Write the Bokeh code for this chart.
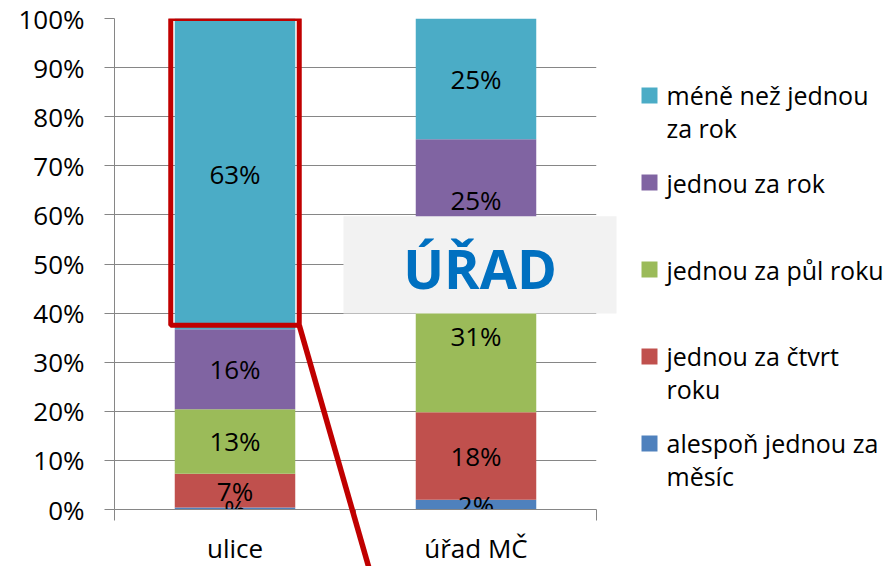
from bokeh.plotting import figure
from bokeh.models import (ColumnDataSource, Range1d, FixedTicker, NumeralTickFormatter,
                          BoxAnnotation)
from bokeh.core.properties import value
from bokeh.embed import file_html
from bokeh.resources import INLINE

# ---- data -------------------------------------------------------------
categories = ["ulice", "úřad MČ"]
series_keys = ["mesic", "ctvrt", "pul", "rok", "mene"]
series_labels = ["alespoň jednou za\nměsíc", "jednou za čtvrt\nroku", "jednou za půl roku",
                 "jednou za rok", "méně než jednou\nza rok"]
colors = ["#4F81BD", "#C0504D", "#9BBB59", "#8064A2", "#4BACC6"]

mesic = [0.004, 0.020]   # alespoň jednou za měsíc
ctvrt = [0.069, 0.178]   # jednou za čtvrt roku
pul = [0.131, 0.310]     # jednou za půl roku
rok = [0.163, 0.246]     # jednou za rok
mene = [0.633, 0.246]    # méně než jednou za rok

y_ticks = [0.0, 0.1, 0.2, 0.3, 0.4, 0.5, 0.6, 0.7, 0.8, 0.9, 1.0]

FONT = "Open Sans"
GRID = "#868686"
FRAME_W = 482  # px
FRAME_H = 491  # px
PX_X = len(categories) / FRAME_W   # data units per pixel (x)
PX_Y = 1.0 / FRAME_H               # data units per pixel (y)

# ---- derived ------------------------------------------------------------
series_values = [mesic, ctvrt, pul, rok, mene]
xpos = [i + 0.5 for i in range(len(categories))]
bar_w = 0.5

data = {"x": xpos}
for k, v in zip(series_keys, series_values):
    data[k] = v
source = ColumnDataSource(data)


def pct(v):
    n = int(round(v * 100))
    return "%" if n == 0 else f"{n}%"


lx, ly, lt = [], [], []
for ci, x in enumerate(xpos):
    base = 0.0
    for v in series_values:
        val = v[ci]
        lx.append(x)
        ly.append(base + val / 2)
        lt.append(pct(val))
        base += val
label_src = ColumnDataSource(dict(x=lx, y=ly, text=lt))

# ---- figure -------------------------------------------------------------
p = figure(width=885, height=566, x_range=Range1d(0, len(categories)), y_range=Range1d(0, 1),
           output_backend="svg", toolbar_location=None,
           min_border_left=114, min_border_right=289, min_border_top=18, min_border_bottom=57)
p.outline_line_color = None
p.background_fill_color = "white"
p.border_fill_color = "white"

renderers = p.vbar_stack(series_keys, x="x", width=bar_w, color=colors, source=source,
                         line_color=None)

p.text(x="x", y="y", text="text", source=label_src, text_font=value(FONT),
       text_font_size="26px", text_align="center", text_baseline="middle", text_color="black")

# grid
p.xgrid.visible = False
p.ygrid.ticker = FixedTicker(ticks=y_ticks)
p.ygrid.grid_line_color = GRID
p.ygrid.grid_line_width = 1

# y axis
yax = p.yaxis[0]
yax.ticker = FixedTicker(ticks=y_ticks)
yax.formatter = NumeralTickFormatter(format="0%")
yax.axis_line_color = GRID
yax.major_tick_line_color = GRID
yax.major_tick_out = 10
yax.major_tick_in = 0
yax.minor_tick_line_color = None
yax.major_label_text_font = FONT
yax.major_label_text_font_size = "26px"
yax.major_label_text_color = "black"
yax.major_label_standoff = 20

# x axis: ticks at category boundaries
xax = p.xaxis[0]
xax.ticker = FixedTicker(ticks=[], minor_ticks=[float(i) for i in range(len(categories) + 1)])
xax.axis_line_color = GRID
xax.major_tick_line_color = None
xax.minor_tick_line_color = GRID
xax.minor_tick_out = 11
xax.minor_tick_in = 0
xax.major_label_text_font_size = "0px"

# category names below the axis (drawn unclipped)
p.text(x=xpos, y=[-38 * PX_Y] * len(xpos), text=categories, text_font=value(FONT),
       text_font_size="26px", text_align="center", text_baseline="middle",
       text_color="black", level="overlay")

# callout box around the top segment of "ulice"
pad_x = 4 * PX_X
pad_y = 4 * PX_Y
top_start = 1 - mene[0]
p.add_layout(BoxAnnotation(left=xpos[0] - bar_w / 2 - pad_x, right=xpos[0] + bar_w / 2 + pad_x,
                           bottom=top_start + pad_y, top=1.0,
                           fill_alpha=0, line_color="#C00000", line_alpha=1, line_width=5))
x0 = xpos[0] + bar_w / 2 + pad_x
y0 = top_start + pad_y
p.segment(x0=[x0], y0=[y0], x1=[x0 + 77 * PX_X], y1=[y0 - 268 * PX_Y],
          line_color="#C00000", line_width=5.5, level="overlay")

# ÚŘAD panel
p.quad(left=[0.95], right=[2.083], bottom=[0.399], top=[0.597],
       fill_color="#F2F2F2", line_color=None, level="overlay")
p.text(x=[1.517], y=[0.492], text=["ÚŘAD"], text_font=value(FONT), text_font_style="bold",
       text_font_size="54px", text_color="#0070C0",
       text_align="center", text_baseline="middle", level="overlay")

# legend (top series first), drawn to the right of the plot area
LEG_X = 2 + 53 * PX_X        # square centre, right of the plot area
LEG_TEXT_X = 2 + 70 * PX_X   # label start
LEG_Y0 = 1 - 77 * PX_Y       # first square centre
LEG_STEP = 87 * PX_Y
LEG_SQ = 16                  # px
LEG_FONT_PX = 25
LEG_LINE_PX = 32
leg_labels = list(reversed(series_labels))
leg_colors = list(reversed(colors))
sq_y = [LEG_Y0 - i * LEG_STEP for i in range(len(leg_labels))]
txt_y = [y - lab.count("\n") * LEG_LINE_PX / 2 * PX_Y for y, lab in zip(sq_y, leg_labels)]
p.quad(left=[LEG_X - LEG_SQ / 2 * PX_X] * len(sq_y), right=[LEG_X + LEG_SQ / 2 * PX_X] * len(sq_y),
       bottom=[y - LEG_SQ / 2 * PX_Y for y in sq_y], top=[y + LEG_SQ / 2 * PX_Y for y in sq_y],
       fill_color=leg_colors, line_color=None, level="overlay")
p.text(x=[LEG_TEXT_X] * len(txt_y), y=txt_y, text=leg_labels, text_font=value(FONT),
       text_font_size=f"{LEG_FONT_PX}px", text_line_height=0.97, text_align="left",
       text_baseline="middle", text_color="black", level="overlay")

open("out.html", "w").write(file_html(p, INLINE))
